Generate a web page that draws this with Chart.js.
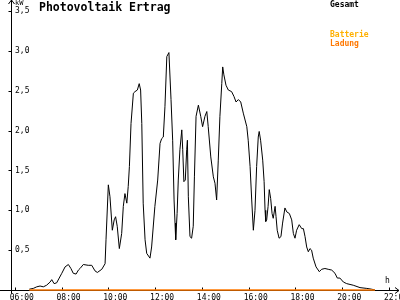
<!DOCTYPE html>
<html lang="de">
<head>
<meta charset="utf-8">
<title>Photovoltaik Ertrag</title>
<script src="https://cdn.jsdelivr.net/npm/chart.js@4/dist/chart.umd.min.js"></script>
<style>
    html, body { margin: 0; padding: 0; background: #fff; }
    #chartBox { position: relative; width: 400px; height: 300px; }
</style>
</head>
<body>
<div id="chartBox"><canvas id="pvChart"></canvas></div>
<script>
// Gesamt - total output over the day (hour of day, kW)
const gesamtHours = [
    6.62, 6.79, 6.94, 7.08, 7.22, 7.36, 7.51, 7.58, 7.68, 7.79,
    7.90, 8.01, 8.15, 8.29, 8.40, 8.50, 8.62, 8.72, 8.79, 8.93,
    9.14, 9.29, 9.43, 9.53, 9.72, 9.86, 9.90, 10.00, 10.07, 10.17,
    10.25, 10.31, 10.38, 10.47, 10.57, 10.64, 10.71, 10.79, 10.85, 10.90,
    10.97, 11.07, 11.14, 11.24, 11.32, 11.38, 11.43, 11.49, 11.57, 11.64,
    11.78, 11.85, 11.99, 12.11, 12.21, 12.28, 12.35, 12.42, 12.50, 12.59,
    12.68, 12.75, 12.81, 12.85, 12.88, 12.94, 12.99, 13.06, 13.14, 13.18,
    13.23, 13.29, 13.35, 13.38, 13.42, 13.49, 13.56, 13.63, 13.68, 13.75,
    13.85, 13.95, 14.03, 14.13, 14.21, 14.27, 14.38, 14.49, 14.56, 14.63,
    14.70, 14.77, 14.85, 14.89, 14.94, 15.03, 15.13, 15.27, 15.37, 15.46,
    15.56, 15.66, 15.77, 15.92, 15.98, 16.06, 16.13, 16.20, 16.27, 16.34,
    16.41, 16.45, 16.51, 16.60, 16.66, 16.70, 16.73, 16.77, 16.83, 16.88,
    16.94, 17.00, 17.05, 17.13, 17.17, 17.22, 17.30, 17.38, 17.45, 17.55,
    17.63, 17.74, 17.84, 17.91, 17.98, 18.05, 18.16, 18.27, 18.34, 18.41,
    18.48, 18.55, 18.62, 18.69, 18.76, 18.88, 19.02, 19.12, 19.26, 19.40,
    19.55, 19.69, 19.79, 19.90, 20.05, 20.19, 20.47, 20.76, 21.05, 21.26,
    21.40
];
const gesamtKW = [
    0.01, 0.02, 0.04, 0.05, 0.04, 0.06, 0.10, 0.13, 0.08, 0.09,
    0.15, 0.21, 0.29, 0.32, 0.27, 0.21, 0.20, 0.25, 0.27, 0.32,
    0.31, 0.31, 0.24, 0.22, 0.26, 0.33, 0.63, 1.32, 1.17, 0.75,
    0.88, 0.92, 0.80, 0.52, 0.71, 1.05, 1.21, 1.09, 1.30, 1.55,
    2.09, 2.47, 2.49, 2.51, 2.59, 2.51, 2.09, 1.09, 0.63, 0.46,
    0.40, 0.54, 1.05, 1.38, 1.84, 1.90, 1.92, 2.30, 2.93, 2.98,
    2.39, 1.88, 1.13, 0.84, 0.63, 0.96, 1.38, 1.76, 2.01, 1.76,
    1.36, 1.38, 1.76, 1.88, 1.17, 0.67, 0.65, 0.80, 1.42, 2.18,
    2.32, 2.18, 2.05, 2.18, 2.24, 2.05, 1.67, 1.42, 1.34, 1.13,
    1.63, 2.18, 2.59, 2.80, 2.70, 2.57, 2.51, 2.49, 2.43, 2.36,
    2.39, 2.36, 2.22, 2.05, 1.88, 1.55, 1.13, 0.75, 1.00, 1.55,
    1.92, 1.99, 1.88, 1.63, 1.36, 1.00, 0.86, 0.88, 1.05, 1.26,
    1.15, 0.96, 0.90, 1.05, 0.92, 0.75, 0.65, 0.67, 0.84, 1.03,
    0.98, 0.96, 0.88, 0.71, 0.65, 0.75, 0.82, 0.77, 0.77, 0.67,
    0.54, 0.48, 0.52, 0.50, 0.40, 0.29, 0.23, 0.26, 0.27, 0.26,
    0.25, 0.21, 0.15, 0.15, 0.10, 0.08, 0.06, 0.03, 0.02, 0.01,
    0.00
];

// Batterie Ladung - battery charge (flat at zero the whole day)
const ladungHours = [6.62, 21.40];
const ladungKW = [0, 0];

// Batterie - no readings shown in the plot
const batterieHours = [];
const batterieKW = [];

// Axis ticks
const hourTicks = [6, 8, 10, 12, 14, 16, 18, 20, 22];
const kwTicks = [0.5, 1.0, 1.5, 2.0, 2.5, 3.0, 3.5];

const MONO = '"DejaVu Sans Mono", "Liberation Mono", monospace';

document.addEventListener('DOMContentLoaded', function() {
    renderYieldChart();
});

/**
 * Turn two parallel arrays into {x, y} points
 */
function toPoints(hours, values) {
    return hours.map((h, i) => ({ x: h, y: values[i] }));
}

/**
 * Axis lines, little tick marks and arrow heads
 */
const axisPlugin = {
    id: 'pvAxes',
    beforeDatasetsDraw(chart) {
        const ctx = chart.ctx;
        const area = chart.chartArea;
        const xScale = chart.scales.x;
        const yScale = chart.scales.y;
        const x0 = Math.round(area.left) + 0.5;
        const y0 = Math.round(area.bottom) + 0.5;

        ctx.save();
        ctx.strokeStyle = '#000';
        ctx.lineWidth = 1;
        ctx.beginPath();
        // x axis with arrow
        ctx.moveTo(0, y0);
        ctx.lineTo(chart.width - 1, y0);
        ctx.moveTo(chart.width - 5, y0 - 3);
        ctx.lineTo(chart.width - 1, y0);
        ctx.lineTo(chart.width - 5, y0 + 3);
        // y axis with arrow
        ctx.moveTo(x0, y0 + 3);
        ctx.lineTo(x0, 0);
        ctx.moveTo(x0 - 3, 4);
        ctx.lineTo(x0, 0);
        ctx.lineTo(x0 + 3, 4);
        // tick marks
        xScale.ticks.forEach(t => {
            const px = Math.round(xScale.getPixelForValue(t.value)) + 0.5;
            ctx.moveTo(px, y0 - 3);
            ctx.lineTo(px, y0);
        });
        yScale.ticks.forEach(t => {
            const py = Math.round(yScale.getPixelForValue(t.value)) + 0.5;
            ctx.moveTo(x0 - 3, py);
            ctx.lineTo(x0, py);
        });
        ctx.stroke();
        ctx.restore();
    },
    afterDraw(chart) {
        const ctx = chart.ctx;
        ctx.save();
        ctx.textBaseline = 'top';
        ctx.textAlign = 'left';

        // title
        ctx.fillStyle = '#000';
        ctx.font = 'bold 11.5px ' + MONO;
        ctx.fillText('Photovoltaik Ertrag', 39, 2);

        // unit labels
        ctx.font = '7px ' + MONO;
        ctx.fillText('kW', 15, 0);
        ctx.font = '8px ' + MONO;
        ctx.fillText('h', 385, 277);

        // legend, one line per dataset
        const legendTops = [1, 31, 39.5];
        ctx.font = 'bold 8px ' + MONO;
        chart.data.datasets.forEach((ds, i) => {
            ctx.fillStyle = ds.borderColor;
            ctx.fillText(ds.label, 330, legendTops[i]);
        });
        ctx.restore();
    }
};

/**
 * Render the daily photovoltaic yield chart
 */
function renderYieldChart() {
    const ctx = document.getElementById('pvChart').getContext('2d');

    new Chart(ctx, {
        type: 'line',
        data: {
            datasets: [{
                label: 'Gesamt',
                data: toPoints(gesamtHours, gesamtKW),
                borderColor: '#000000',
                borderWidth: 1,
                pointRadius: 0,
                tension: 0,
                order: 2
            }, {
                label: 'Batterie',
                data: toPoints(batterieHours, batterieKW),
                borderColor: '#ffb000',
                borderWidth: 1,
                pointRadius: 0,
                order: 1
            }, {
                label: 'Ladung',
                data: toPoints(ladungHours, ladungKW),
                borderColor: '#ff7800',
                borderWidth: 1.5,
                pointRadius: 0,
                order: 0
            }]
        },
        options: {
            responsive: true,
            maintainAspectRatio: false,
            animation: false,
            clip: false,
            layout: { padding: 0 },
            plugins: {
                legend: { display: false },
                title: { display: false },
                tooltip: { enabled: false }
            },
            scales: {
                x: {
                    type: 'linear',
                    min: 5.838,
                    max: 22.47,
                    grid: { display: false, drawTicks: false },
                    border: { display: false },
                    afterBuildTicks: scale => {
                        scale.ticks = hourTicks.map(value => ({ value }));
                    },
                    afterFit: scale => {
                        scale.height = 10;
                        scale.paddingLeft = 0;
                        scale.paddingRight = 0;
                    },
                    ticks: {
                        autoSkip: false,
                        maxRotation: 0,
                        padding: 3,
                        labelOffset: 7,
                        color: '#000',
                        font: { family: MONO, size: 8 },
                        callback: value => String(value).padStart(2, '0') + ':00'
                    }
                },
                y: {
                    type: 'linear',
                    min: 0,
                    max: 3.64,
                    grid: { display: false, drawTicks: false },
                    border: { display: false },
                    afterBuildTicks: scale => {
                        scale.ticks = kwTicks.map(value => ({ value }));
                    },
                    afterFit: scale => {
                        scale.width = 11;
                        scale.paddingTop = 0;
                        scale.paddingBottom = 0;
                    },
                    ticks: {
                        mirror: true,
                        padding: 4,
                        color: '#000',
                        font: { family: MONO, size: 8 },
                        callback: value => value.toFixed(1).replace('.', ',')
                    }
                }
            }
        },
        plugins: [axisPlugin]
    });
}
</script>
</body>
</html>
